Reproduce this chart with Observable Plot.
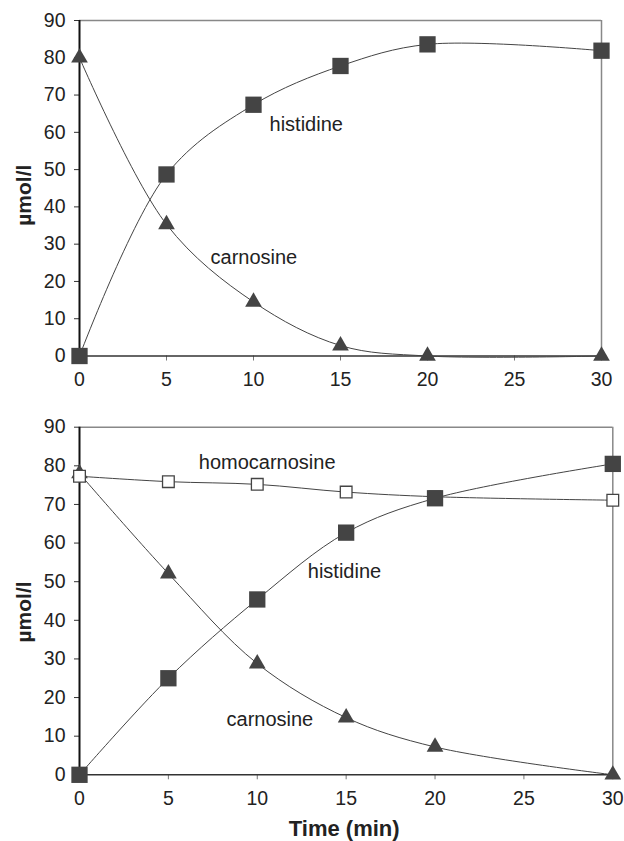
<!DOCTYPE html>
<html>
<head>
<meta charset="utf-8">
<script src="https://cdn.jsdelivr.net/npm/d3@7"></script>
<script src="https://cdn.jsdelivr.net/npm/@observablehq/plot@0.6"></script>
<style>
  html, body { margin: 0; padding: 0; background: white; }
  #chart svg { display: block; overflow: visible; }
</style>
</head>
<body>
<div id="chart"></div>
<script>
// ---- data ----
const times = [0, 5, 10, 15, 20, 30];
const topHistidine = [0, 48.7, 67.4, 77.8, 83.6, 81.9];
const topCarnosine = [80, 35.3, 14.5, 2.8, 0, 0];
const botHomocarnosine = [77.3, 75.9, 75.2, 73.2, 72.0, 71.1];
const botHistidine = [0, 25.0, 45.4, 62.7, 71.6, 80.5];
const botCarnosine = [78, 52.1, 28.8, 14.8, 7.2, 0];
const xTicks = [0, 5, 10, 15, 20, 25, 30];
const yTicks = [0, 10, 20, 30, 40, 50, 60, 70, 80, 90];
const yLabel = "µmol/l";
const xLabel = "Time (min)";
const seriesNames = ["histidine", "carnosine", "homocarnosine"];

const toRows = (vals) => times.map((t, i) => ({t, v: vals[i]}));

const FONT = "Liberation Sans, Arial, Helvetica, sans-serif";
const INK = "#222";
const LINE = "#444";
const TICK_FS = 19.5;
const LABEL_FS = 20;

function frameMarks() {
  return [
    Plot.ruleY([90], {stroke: "#888", strokeWidth: 1.5}),
    Plot.ruleX([30], {stroke: "#888", strokeWidth: 1.5}),
    Plot.axisX({ticks: xTicks, tickSize: 5, tickPadding: 11, label: null, stroke: "#777", fill: INK, fontSize: TICK_FS}),
    Plot.axisY({ticks: yTicks, tickSize: 5, tickPadding: 9, label: null, stroke: "#333", fill: INK, fontSize: TICK_FS}),
    Plot.ruleX([0], {stroke: "#111", strokeWidth: 2}),
    Plot.ruleY([0], {stroke: "#333", strokeWidth: 1.5})
  ];
}

function seriesLine(vals) {
  return Plot.line(toRows(vals), {x: "t", y: "v", curve: "catmull-rom", stroke: LINE, strokeWidth: 1});
}
function triangles(vals) {
  return Plot.dot(toRows(vals), {x: "t", y: "v", symbol: "triangle", r: 6.2, fill: LINE, stroke: "none"});
}
function filledSquares(vals) {
  return Plot.dot(toRows(vals), {x: "t", y: "v", symbol: "square", r: 9.2, fill: LINE, stroke: "none"});
}
function openSquares(vals) {
  return Plot.dot(toRows(vals), {x: "t", y: "v", symbol: "square", r: 6.6, fill: "white", stroke: LINE, strokeWidth: 1.3});
}
function labels(rows) {
  return Plot.text(rows, {x: "x", y: "y", text: "label", textAnchor: "start", fontSize: LABEL_FS, fill: INK});
}
function yTitle(dy) {
  return Plot.text([yLabel], {text: d => d, frameAnchor: "left", dx: -55.7, dy, rotate: -90,
    fontWeight: "bold", fontSize: 21, fill: INK, textAnchor: "middle"});
}

const topPanel = Plot.plot({
  width: 624, height: 400,
  marginTop: 20, marginRight: 23, marginBottom: 44.5, marginLeft: 79,
  x: {domain: [0, 30]},
  y: {domain: [0, 90]},
  style: {fontFamily: FONT, fontSize: "19.5px", color: INK, background: "white", overflow: "visible"},
  marks: [
    ...frameMarks(),
    seriesLine(topHistidine),
    seriesLine(topCarnosine),
    triangles(topCarnosine),
    filledSquares(topHistidine),
    labels([
      {x: 10.92, y: 62.0, label: seriesNames[0]},
      {x: 7.53, y: 26.4, label: seriesNames[1]}
    ]),
    yTitle(7)
  ]
});

const bottomPanel = Plot.plot({
  width: 624, height: 441,
  marginTop: 26.7, marginRight: 11.7, marginBottom: 66.7, marginLeft: 79,
  x: {domain: [0, 30]},
  y: {domain: [0, 90]},
  style: {fontFamily: FONT, fontSize: "19.5px", color: INK, background: "white", overflow: "visible"},
  marks: [
    ...frameMarks(),
    seriesLine(botHomocarnosine),
    seriesLine(botHistidine),
    seriesLine(botCarnosine),
    triangles(botCarnosine),
    openSquares(botHomocarnosine),
    filledSquares(botHistidine),
    labels([
      {x: 6.71, y: 80.9, label: seriesNames[2]},
      {x: 12.84, y: 52.6, label: seriesNames[0]},
      {x: 8.27, y: 14.4, label: seriesNames[1]}
    ]),
    yTitle(11),
    Plot.text([xLabel], {text: d => d, frameAnchor: "bottom", dx: -2, dy: 60.7, lineAnchor: "bottom",
      fontWeight: "bold", fontSize: 22, fill: INK, textAnchor: "middle"})
  ]
});

const chart = document.getElementById("chart");
chart.appendChild(topPanel);
chart.appendChild(bottomPanel);
</script>
</body>
</html>
